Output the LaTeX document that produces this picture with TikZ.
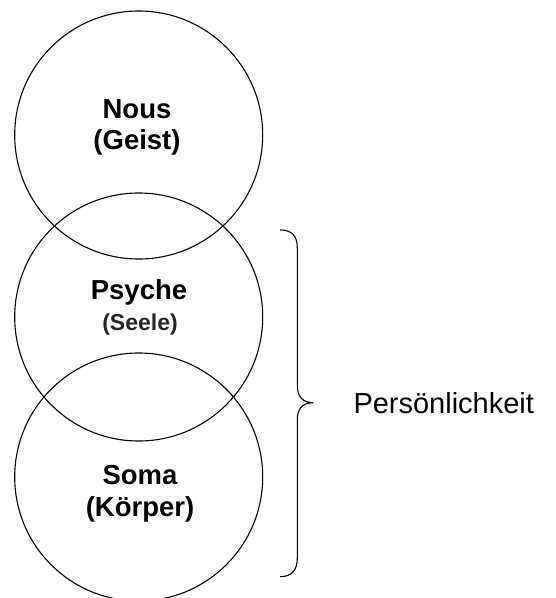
\documentclass[tikz,border=0pt]{standalone}
\usepackage{fontspec}
\setmainfont{Liberation Sans}
\begin{document}
\begin{tikzpicture}[x=1pt,y=-1pt,
  ring/.style={draw=black,line width=1.1pt},
  lbl/.style={anchor=base,inner sep=0pt,font=\fontsize{27.5}{31}\selectfont\bfseries},
  sublbl/.style={anchor=base,inner sep=0pt,text=black!85,font=\fontsize{23}{27}\selectfont\bfseries},
  bracepath/.style={draw=black,line width=1.1pt}]
\useasboundingbox (0,0) rectangle (556,598);
\draw[ring] (138.7,135) circle[radius=124];
\draw[ring] (138.7,317) circle[radius=124];
\draw[ring] (138.7,477) circle[radius=124];
\node[lbl] (nous) at (137,118) {Nous};
\node[lbl] (geist) at (137,149) {(Geist)};
\node[lbl] (psyche) at (139,299) {Psyche};
\node[sublbl] (seele) at (140,330) {(Seele)};
\node[lbl] (soma) at (140,484) {Soma};
\node[lbl] (koerper) at (140,516) {(Körper)};
\coordinate (btop) at (280,230);
\coordinate (btip) at (313.3,402.7);
\coordinate (bbot) at (280,576.7);
\draw[bracepath] (btop) .. controls (292,230) and (297.3,236) .. (297.3,248)
  -- (297.3,385) .. controls (297.3,396) and (302,402.7) .. (btip)
  .. controls (302,402.7) and (297.3,409) .. (297.3,420)
  -- (297.3,558) .. controls (297.3,570) and (292,576.7) .. (bbot);
\node[anchor=base west,inner sep=0pt,font=\fontsize{29}{33}\selectfont] (pers) at (353.3,413) {Persönlichkeit};
\end{tikzpicture}
\end{document}
